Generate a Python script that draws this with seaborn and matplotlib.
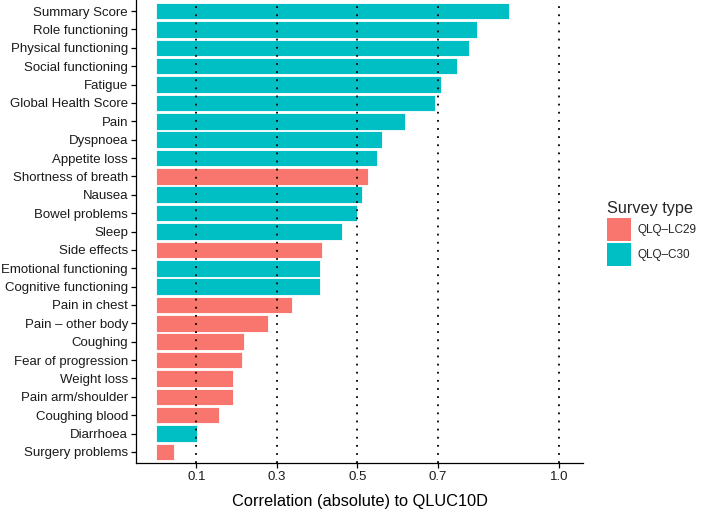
import pandas as pd
import numpy as np
import matplotlib
matplotlib.use("Agg")
import matplotlib.pyplot as plt
import matplotlib.patches as mpatches
import seaborn as sns

# items from top to bottom
items = ['Summary Score', 'Role functioning', 'Physical functioning', 'Social functioning',
         'Fatigue', 'Global Health Score', 'Pain', 'Dyspnoea', 'Appetite loss',
         'Shortness of breath', 'Nausea', 'Bowel problems', 'Sleep', 'Side effects',
         'Emotional functioning', 'Cognitive functioning', 'Pain in chest',
         'Pain \u2013 other body', 'Coughing', 'Fear of progression', 'Weight loss',
         'Pain arm/shoulder', 'Coughing blood', 'Diarrhoea', 'Surgery problems']
correlation = [0.876, 0.797, 0.778, 0.746, 0.708, 0.692, 0.618, 0.560, 0.549,
               0.527, 0.510, 0.498, 0.461, 0.411, 0.408, 0.408, 0.337,
               0.279, 0.217, 0.212, 0.192, 0.191, 0.155, 0.101, 0.044]
survey = ['QLQ-C30', 'QLQ-C30', 'QLQ-C30', 'QLQ-C30', 'QLQ-C30', 'QLQ-C30', 'QLQ-C30',
          'QLQ-C30', 'QLQ-C30', 'QLQ-LC29', 'QLQ-C30', 'QLQ-C30', 'QLQ-C30', 'QLQ-LC29',
          'QLQ-C30', 'QLQ-C30', 'QLQ-LC29', 'QLQ-LC29', 'QLQ-LC29', 'QLQ-LC29',
          'QLQ-LC29', 'QLQ-LC29', 'QLQ-LC29', 'QLQ-C30', 'QLQ-LC29']
survey_types = ['QLQ-LC29', 'QLQ-C30']
survey_labels = ['QLQ\u2013LC29', 'QLQ\u2013C30']
colors = {'QLQ-LC29': '#F8766D', 'QLQ-C30': '#00BFC4'}
ref_lines = [0.1, 0.3, 0.5, 0.7, 1.0]
tick_labels = ['0.1', '0.3', '0.5', '0.7', '1.0']

df = pd.DataFrame({'item': items, 'correlation': correlation, 'survey': survey})

sns.set_style('white')
plt.rcParams['font.family'] = ['Liberation Sans', 'DejaVu Sans']

fig = plt.figure(figsize=(7.09, 5.13), dpi=100)
ax = fig.add_axes([136 / 709, 50 / 513, (583 - 136) / 709, 463 / 513])

sns.barplot(data=df, y='item', x='correlation', hue='survey', order=items,
            hue_order=survey_types, palette=colors, dodge=False, width=0.9,
            saturation=1, edgecolor='white', linewidth=0.6, legend=False, ax=ax)

for v in ref_lines:
    ax.axvline(v, color='black', linestyle=(0, (1, 3.5)), linewidth=1.3, zorder=5)

ax.set_xlim(-0.05, 1.06)
ax.set_ylim(len(items) - 0.4, -0.6)
ax.set_xticks(ref_lines)
ax.set_xticklabels(tick_labels)
ax.set_ylabel('')
ax.set_xlabel('Correlation (absolute) to QLUC10D', fontsize=11.8, color='black', labelpad=8)

for s in ['top', 'right']:
    ax.spines[s].set_visible(False)
for s in ['left', 'bottom']:
    ax.spines[s].set_color('black')
    ax.spines[s].set_linewidth(0.9)
ax.tick_params(axis='both', which='both', direction='out', length=3.5, width=0.9,
               color='black', labelsize=9.5, labelcolor='#1a1a1a', pad=2.2,
               left=True, bottom=True)

handles = [mpatches.Patch(facecolor=colors[t], edgecolor='none') for t in survey_types]
leg = fig.legend(handles, survey_labels, title='Survey type', loc='upper left',
                 bbox_to_anchor=(601 / 709, 1 - 195 / 513), frameon=False,
                 fontsize=8.5, title_fontsize=11.7, borderpad=0, handlelength=2.0,
                 handleheight=2.55, labelspacing=0.2, handletextpad=0.6,
                 alignment='left')

fig.savefig('out.png', dpi=100)
